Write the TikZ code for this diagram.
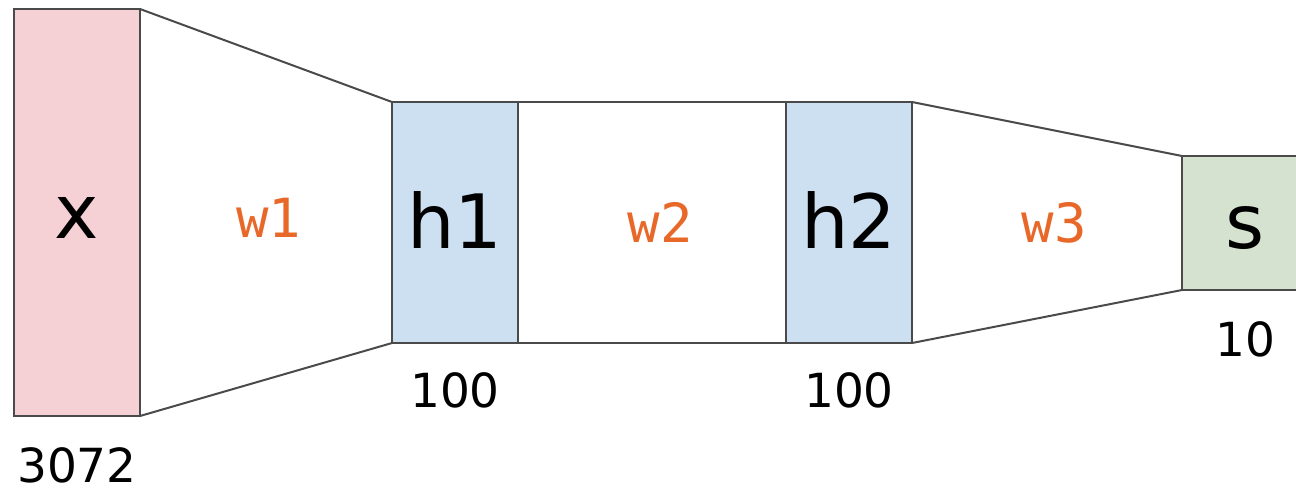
\documentclass[tikz,border=0pt]{standalone}
\usepackage{fontspec}
\setmainfont{DejaVu Sans}
\newfontfamily\pesofont{DejaVu Sans Mono}
\usepackage{tikz}
\usetikzlibrary{calc,positioning}
\definecolor{rosa}{HTML}{F5D1D6}
\definecolor{celeste}{HTML}{CCE0F1}
\definecolor{salvia}{HTML}{D6E2D0}
\definecolor{bordo}{HTML}{4A4A4A}
\definecolor{arancio}{HTML}{E8682A}

\begin{document}
\begin{tikzpicture}[x=0.5pt, y=-0.5pt,
  strato/.style={draw=bordo, line width=1pt, minimum width=63pt, inner sep=0pt,
    outer sep=0pt, font=\fontsize{37.5}{40}\selectfont,
    text height=34.8pt, text depth=8.9pt},
  collega/.style={draw=bordo, line width=1pt},
  peso/.style={inner sep=0pt, color=arancio, font=\pesofont\fontsize{27}{29}\selectfont,
    text height=25pt, text depth=5.5pt},
  dim/.style={inner sep=0pt, font=\fontsize{23.5}{25}\selectfont,
    text height=21.8pt, text depth=0pt}]
  \useasboundingbox (0,0) rectangle (1296,488);

  % Strati della rete
  \node[strato, fill=rosa, minimum height=203.5pt] (x) at (77,212.5) {x};
  \node[strato, fill=celeste, minimum height=120.5pt] (h1) at (455,222.5) {h1};
  \node[strato, fill=celeste, minimum height=120.5pt] (h2) at (849,222.5) {h2};
  \node[strato, fill=salvia, minimum height=67pt] (s) at (1245,223) {s};

  % Collegamenti tra gli strati
  \draw[collega] (x.north east) -- (h1.north west);
  \draw[collega] (x.south east) -- (h1.south west);
  \draw[collega] (h1.north east) -- (h2.north west);
  \draw[collega] (h1.south east) -- (h2.south west);
  \draw[collega] (h2.north east) -- (s.north west);
  \draw[collega] (h2.south east) -- (s.south west);

  % Pesi
  \node[peso, xshift=1.5pt] (w1) at ($(x.east)!0.5!(h1.west)$) {w1};
  \node[peso, xshift=4pt] (w2) at ($(h1.east)!0.5!(h2.west)$) {w2};
  \node[peso, xshift=3.5pt] (w3) at ($(h2.east)!0.5!(s.west)$) {w3};

  % Dimensioni
  \node[dim, below=11pt of x] (nx) {3072};
  \node[dim, below=10pt of h1] (nh1) {100};
  \node[dim, below=10pt of h2] (nh2) {100};
  \node[dim, below=11pt of s] (ns) {10};
\end{tikzpicture}
\end{document}
